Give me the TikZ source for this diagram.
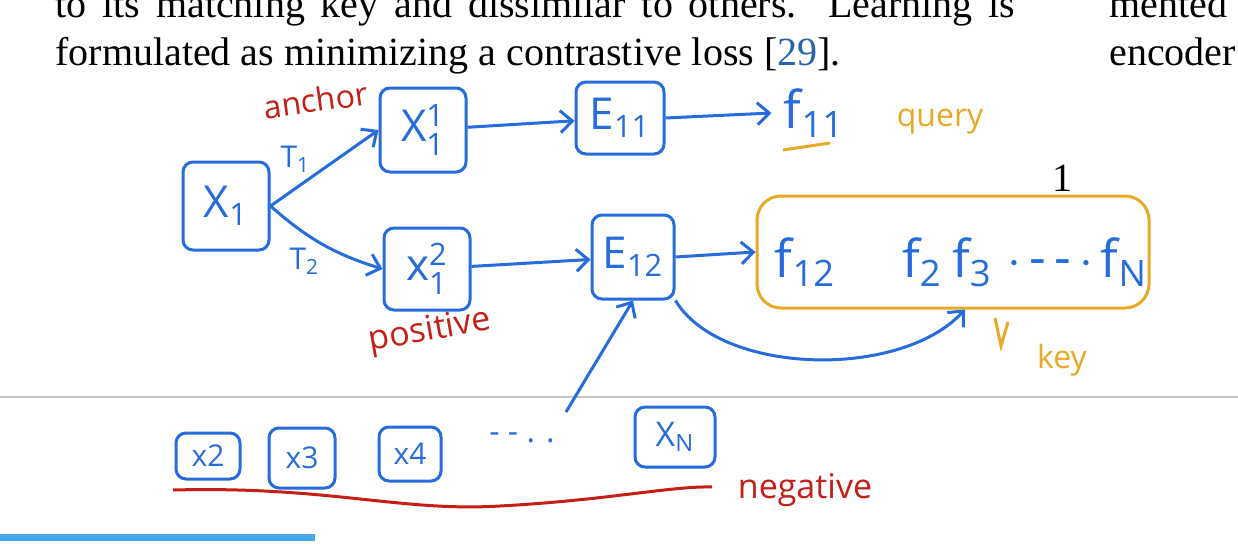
\documentclass[tikz,border=0pt]{standalone}
\usepackage{amsmath,amssymb}
\usepackage{fontspec}
\setmainfont{Liberation Serif}
\setsansfont{Open Sans}
\usetikzlibrary{arrows.meta}
\definecolor{penblue}{RGB}{38,108,220}
\definecolor{penorange}{RGB}{232,168,40}
\definecolor{penred}{RGB}{196,30,22}
\definecolor{citeblue}{RGB}{40,98,170}
\definecolor{barblue}{RGB}{72,166,236}

\begin{document}
\begin{tikzpicture}[x=0.5pt,y=-0.5pt]
        \tikzset{
          sketch/.style={draw=penblue, line width=1.5pt, rounded corners=5pt, text=penblue, inner sep=0pt},
          bigbox/.style={sketch, font=\sffamily\fontsize{22}{22}\selectfont},
          smallbox/.style={sketch, font=\sffamily\fontsize{15}{15}\selectfont},
          feat/.style={text=penblue, inner sep=0pt, font=\sffamily\fontsize{26}{26}\selectfont},
          flow/.style={draw=penblue, line width=1.5pt, -{Straight Barb[length=6pt,width=11pt]}},
          note/.style={inner sep=0pt, font=\sffamily\fontsize{17}{17}\selectfont},
          tlabel/.style={text=penblue, inner sep=1pt, font=\sffamily\fontsize{15}{15}\selectfont},
          papertext/.style={anchor=base west, inner sep=0pt, font=\fontsize{20}{20}\selectfont}
        }
        \useasboundingbox (0,0) rectangle (1238,546);
        \clip (0,0) rectangle (1238,546);
        \node[papertext] (line1) at (55,18) {\makebox[480pt][s]{to its matching key and dissimilar to others.\ \ Learning is}};
        \node[papertext] (line2) at (55,65) {formulated as minimizing a contrastive loss [\textcolor{citeblue}{29}].};
        \node[papertext] (col1) at (1109,18) {mented};
        \node[papertext] (col2) at (1109,65) {encoder};
        \node[font=\fontsize{20}{20}\selectfont, inner sep=0pt] (one) at (1062,178) {1};
        \draw[gray!45, line width=1pt] (0,397) -- (1238,397);
        \fill[barblue] (0,534) rectangle (315,541);
        \node[bigbox, minimum width=43pt, minimum height=44pt] (X1) at (226,206) {$\mathsf{X}_{\mathsf{1}}$};
        \node[bigbox, minimum width=43pt, minimum height=42pt] (X11) at (423,130) {$\mathsf{X}_{\mathsf{1}}^{\mathsf{1}}$};
        \node[bigbox, minimum width=43pt, minimum height=41pt] (X12) at (427,269) {$\mathsf{x}_{\mathsf{1}}^{\mathsf{2}}$};
        \node[bigbox, minimum width=44pt, minimum height=36pt] (E11) at (620,118) {$\mathsf{E}_{\mathsf{11}}$};
        \node[bigbox, minimum width=41pt, minimum height=42pt] (E12) at (633,257) {$\mathsf{E}_{\mathsf{12}}$};
        \node[feat] (f11) at (814,113) {$\mathsf{f}_{\mathsf{11}}$};
        \node[draw=penorange, line width=1.5pt, rounded corners=12pt, minimum width=196pt, minimum height=56pt] (keys) at (953,252) {};
        \node[feat] (f12) at (805,262) {$\mathsf{f}_{\mathsf{12}}$};
        \node[feat] (f2) at (922,262) {$\mathsf{f}_{\mathsf{2}}$};
        \node[feat] (f3) at (972,262) {$\mathsf{f}_{\mathsf{3}}$};
        \node[feat] (kdots) at (1050,264) {$\cdot\,\text{-}\,\text{-}\,\cdot$};
        \node[feat] (fN) at (1124,262) {$\mathsf{f}_{\mathsf{N}}$};
        \node[smallbox, minimum width=32pt, minimum height=23pt] (x2) at (208,456) {x2};
        \node[smallbox, minimum width=33pt, minimum height=30pt] (x3) at (302,458) {x3};
        \node[smallbox, minimum width=31pt, minimum height=27pt] (x4) at (410,454) {x4};
        \node[feat, font=\sffamily\fontsize{16}{16}\selectfont] (ndots) at (522,438) {- - . .};
        \node[smallbox, font=\sffamily\fontsize{17}{17}\selectfont, minimum width=40pt, minimum height=30pt] (xN) at (675,437) {$\mathsf{X}_{\mathsf{N}}$};
        \coordinate (neg) at (566,412);
        \node[note, text=penred, rotate=8, font=\sffamily\fontsize{16}{16}\selectfont] (anchor) at (316,100) {anchor};
        \node[note, text=penred, rotate=10] (pos) at (430,332) {positive};
        \node[note, text=penred] (negl) at (805,490) {negative};
        \node[note, text=penorange, font=\sffamily\fontsize{16}{16}\selectfont] (query) at (940,122) {query};
        \node[note, text=penorange, font=\sffamily\fontsize{16}{16}\selectfont] (key) at (1062,360) {key};
        \draw[flow] (X1.east) -- node[tlabel, above left, pos=0.4] {$\mathsf{T}_{\mathsf{1}}$} (X11.west);
        \draw[flow] (X1.east) to[bend right=12] node[tlabel, below left] {$\mathsf{T}_{\mathsf{2}}$} (X12.west);
        \draw[flow] (X11) -- (E11);
        \draw[flow] (X12) -- (E12);
        \draw[flow] (E11.east) -- ([xshift=-6pt]f11.west);
        \draw[flow] (E12.east) -- (keys.west);
        \draw[flow] (E12.south east) .. controls (720,375) and (900,380) .. ([xshift=6pt]keys.south);
        \draw[flow] (neg) -- (E12.south);
        \draw[penorange, line width=1.5pt] (783,150) -- (830,143);
        \draw[penorange, line width=1.5pt] (995,318) -- (1001,346) -- (1008,322);
        \draw[penred, line width=1.5pt] (173,490) .. controls (330,486) and (400,512) .. (500,506) .. controls (610,500) and (670,486) .. (712,487);
\end{tikzpicture}
\end{document}
